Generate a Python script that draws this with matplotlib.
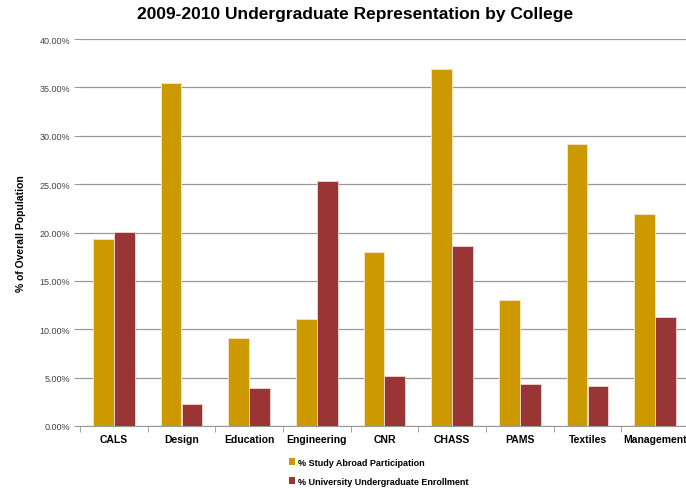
import matplotlib.pyplot as plt
import numpy as np
from matplotlib.ticker import PercentFormatter

plt.rcParams['font.family'] = ['Liberation Sans', 'DejaVu Sans']

colleges = ["CALS", "Design", "Education", "Engineering", "CNR", "CHASS", "PAMS", "Textiles", "Management"]
study_abroad = [19.3, 35.5, 9.1, 11.1, 18.0, 36.9, 13.0, 29.1, 21.9]
enrollment = [20.1, 2.3, 3.9, 25.3, 5.2, 18.6, 4.3, 4.1, 11.3]

gold = "#CC9900"
red = "#993535"

fig = plt.figure(figsize=(6.86, 4.89), dpi=100)
ax = fig.add_axes([80/686, 1-427/489, 609/686, 387/489])

x = np.arange(len(colleges))
w = 0.31
ax.bar(x - w/2, study_abroad, w, color=gold, edgecolor="#f3e3c0", linewidth=0.7,
       label="% Study Abroad Participation", zorder=3)
ax.bar(x + w/2, enrollment, w, color=red, edgecolor="#ecd0d0", linewidth=0.7,
       label="% University Undergraduate Enrollment", zorder=3)

ax.set_xlim(-0.5, len(colleges) - 0.5)
ax.set_ylim(0, 40)
ax.set_yticks(np.arange(0, 40.1, 5))
ax.yaxis.set_major_formatter(PercentFormatter(decimals=2))
ax.grid(axis="y", color="#999999", linewidth=0.9, zorder=0)

ax.set_xticks(x)
ax.set_xticklabels(colleges, fontsize=7.5, fontweight="bold")
ax.set_xticks(np.arange(-0.5, len(colleges)), minor=True)
ax.tick_params(axis="x", which="major", length=0, pad=6)
ax.tick_params(axis="x", which="minor", length=4, color="#999999")
ax.tick_params(axis="y", labelsize=6.5, length=4, color="#999999", labelcolor="#444444", pad=3)

for s in ["top", "right", "left"]:
    ax.spines[s].set_visible(False)
ax.spines["bottom"].set_color("#999999")

ax.set_ylabel("% of Overall Population", fontsize=7.5, fontweight="bold", labelpad=10)
fig.suptitle("2009-2010 Undergraduate Representation by College", fontsize=12.5,
             fontweight="bold", x=0.517, y=0.985)

# legend stacked under the axis, left-aligned around the middle
leg = fig.legend(loc="upper left", bbox_to_anchor=(285/686, 1-455/489), ncol=1, frameon=False,
                 prop={"size": 6.5, "weight": "bold"}, handlelength=0.7, handleheight=0.7,
                 handletextpad=0.3, labelspacing=1.1, borderaxespad=0)
for h in leg.legend_handles:
    h.set_edgecolor("none")

fig.savefig("out.png", dpi=100)
